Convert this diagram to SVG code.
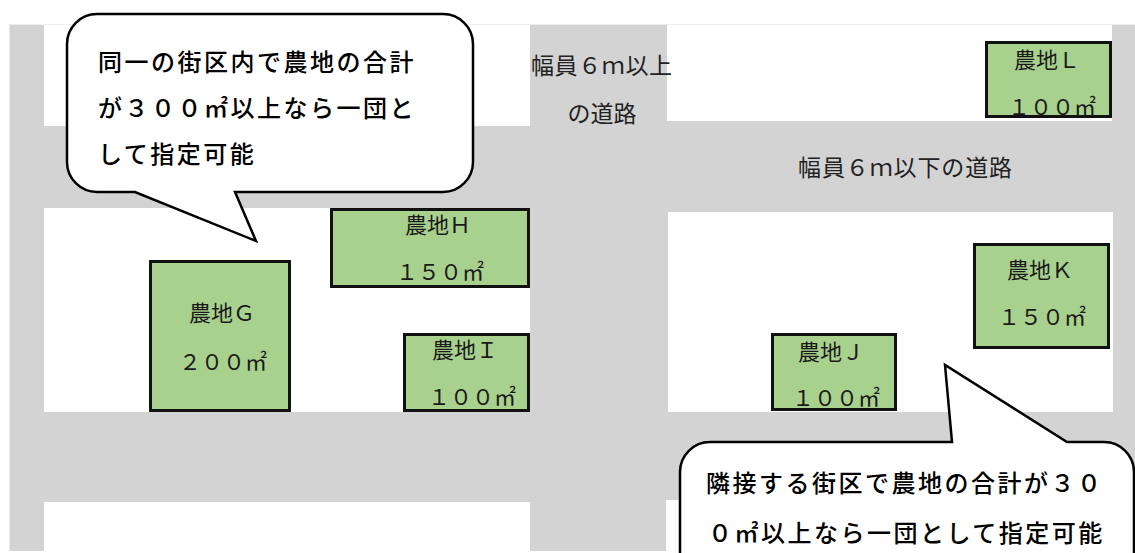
<svg xmlns="http://www.w3.org/2000/svg" width="1135" height="553" viewBox="0 0 1135 553">
  <style>
    .road { fill: #d3d3d3; }
    .block { fill: #ffffff; }
    .farm { fill: #a9d18e; stroke: #111111; stroke-width: 3; }
    .ft { font-family: "Noto Sans CJK JP", "Noto Sans", sans-serif; font-size: 22px; fill: #1a1a1a; text-anchor: middle; }
    .rt { font-family: "Noto Sans CJK JP", "Noto Sans", sans-serif; font-size: 23px; fill: #222222; }
    .bubble { fill: #ffffff; stroke: #000000; stroke-width: 2.5; stroke-linejoin: miter; }
    .bt { font-family: "Noto Sans CJK JP", "Noto Sans", sans-serif; font-size: 24px; font-weight: 500; fill: #000000; letter-spacing: 2.5px; }
  </style>

  <g id="ground">
    <rect x="0" y="0" width="1135" height="553" fill="#ffffff"/>
    <rect class="road" x="9.5" y="24" width="1125.5" height="527"/>
    <rect class="block" x="44" y="24" width="486" height="102"/>
    <rect class="block" x="44" y="208" width="486" height="204"/>
    <rect class="block" x="44" y="502" width="486" height="51"/>
    <rect class="block" x="667" y="24" width="445" height="97"/>
    <rect class="block" x="668" y="212" width="445" height="200"/>
    <rect class="block" x="666" y="500" width="469" height="53"/>
    <line x1="9.5" y1="24.5" x2="1135" y2="24.5" stroke="#eeeeee" stroke-width="1"/>
  </g>

  <g id="road-labels">
    <text class="rt" x="531" y="74" textLength="141">幅員６ｍ以上</text>
    <text class="rt" x="602" y="122" text-anchor="middle">の道路</text>
    <text class="rt" x="798" y="176" textLength="214">幅員６ｍ以下の道路</text>
  </g>

  <g id="farm-G">
    <rect class="farm" x="150.5" y="261.5" width="139" height="149"/>
    <text class="ft" x="222" y="321">農地Ｇ</text>
    <text class="ft" x="223" y="370">２００㎡</text>
  </g>
  <g id="farm-H">
    <rect class="farm" x="331.5" y="209.5" width="197" height="77"/>
    <text class="ft" x="438" y="233">農地Ｈ</text>
    <text class="ft" x="440" y="280">１５０㎡</text>
  </g>
  <g id="farm-I">
    <rect class="farm" x="404.5" y="334.5" width="124" height="76"/>
    <text class="ft" x="465" y="358">農地Ｉ</text>
    <text class="ft" x="472" y="405">１００㎡</text>
  </g>
  <g id="farm-J">
    <rect class="farm" x="772.5" y="334.5" width="123" height="75"/>
    <text class="ft" x="831" y="360">農地Ｊ</text>
    <text class="ft" x="836" y="406">１００㎡</text>
  </g>
  <g id="farm-K">
    <rect class="farm" x="974.5" y="244.5" width="134" height="103"/>
    <text class="ft" x="1040" y="278">農地Ｋ</text>
    <text class="ft" x="1042" y="325">１５０㎡</text>
  </g>
  <g id="farm-L">
    <rect class="farm" x="986.5" y="42.5" width="124" height="74"/>
    <text class="ft" x="1047" y="68">農地Ｌ</text>
    <text class="ft" x="1052" y="115">１００㎡</text>
  </g>

  <g id="callout-same-block">
    <path class="bubble" d="M 97,14 H 443 A 30 30 0 0 1 473 44 V 162 A 30 30 0 0 1 443 192 H 235 L 256 241 L 135 192 H 97 A 30 30 0 0 1 67 162 V 44 A 30 30 0 0 1 97 14 Z"/>
    <text class="bt" x="98" y="71">同一の街区内で農地の合計</text>
    <text class="bt" x="98" y="117">が３００㎡以上なら一団と</text>
    <text class="bt" x="98" y="163">して指定可能</text>
  </g>

  <g id="callout-adjacent-block">
    <path class="bubble" d="M 710,442 H 952 L 945 365 L 1067 442 H 1104 A 30 30 0 0 1 1134 472 V 560 H 680 V 472 A 30 30 0 0 1 710 442 Z"/>
    <text class="bt" x="706" y="492">隣接する街区で農地の合計が３０</text>
    <text class="bt" x="708" y="542">０㎡以上なら一団として指定可能</text>
  </g>
</svg>
